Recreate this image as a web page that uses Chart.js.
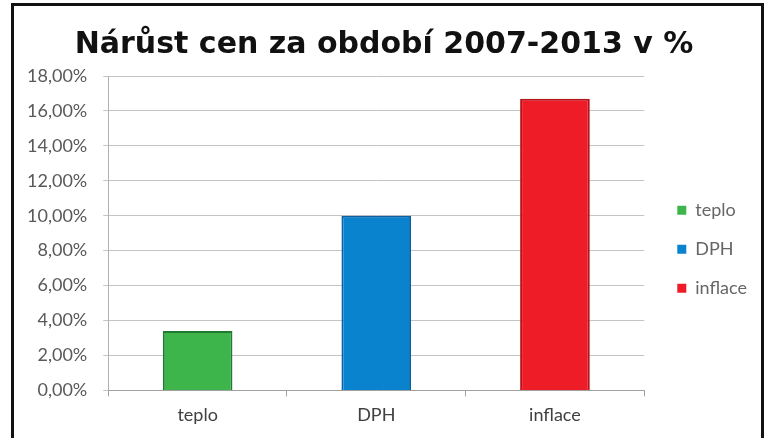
<!DOCTYPE html>
<html>
<head>
<meta charset="utf-8">
<script src="https://cdn.jsdelivr.net/npm/chart.js@4"></script>
<style>
  html, body { margin: 0; padding: 0; background: #fff; }
  #wrap { position: relative; width: 769px; height: 438px; overflow: hidden; }
  #frame {
    position: absolute; left: 11px; top: 3px; width: 747px; height: 450px;
    border: 3px solid #111; pointer-events: none;
  }
</style>
</head>
<body>
<div id="wrap">
  <canvas id="chart" width="769" height="438"></canvas>
  <div id="frame"></div>
</div>
<script>
// chart data
const categories = ['teplo', 'DPH', 'inflace'];
const values = [3.4, 10.0, 16.7];
const fillColors = ['#3db54b', '#0a83cf', '#ed1c27'];
const edgeColors = ['#1f7a32', '#0562a6', '#b8121b'];
const yTicks = [0, 2, 4, 6, 8, 10, 12, 14, 16, 18];

const labelFont = { family: 'Lato', size: 18 };

new Chart(document.getElementById('chart').getContext('2d'), {
    type: 'bar',
    data: {
        labels: categories,
        datasets: [{
            data: values,
            backgroundColor: fillColors,
            borderColor: edgeColors,
            borderWidth: 2,
            categoryPercentage: 1,
            barPercentage: 0.39
        }]
    },
    options: {
        responsive: false,
        animation: false,
        layout: { padding: { left: 11, right: 12, top: 0, bottom: 4 } },
        plugins: {
            title: {
                display: true,
                text: 'Nárůst cen za období 2007-2013 v %',
                color: '#111',
                font: { family: 'DejaVu Sans', size: 30, weight: 'bold' },
                padding: { top: 27, bottom: 13 }
            },
            legend: {
                position: 'right',
                onClick: null,
                title: { display: true, text: ' ', font: { size: 12 }, padding: { top: 25, bottom: 25 } },
                labels: {
                    boxWidth: 9,
                    boxHeight: 9,
                    padding: 21,
                    color: '#333',
                    font: labelFont,
                    generateLabels: function() {
                        return categories.map((c, i) => ({
                            text: c,
                            fillStyle: fillColors[i],
                            strokeStyle: fillColors[i],
                            lineWidth: 0,
                            index: i
                        }));
                    }
                }
            },
            tooltip: { enabled: false }
        },
        scales: {
            x: {
                grid: { offset: true, drawOnChartArea: false, tickLength: 6, color: '#a0a0a0' },
                border: { color: '#a0a0a0' },
                ticks: { color: '#404040', font: labelFont, padding: 8 }
            },
            y: {
                min: 0,
                max: 18,
                afterBuildTicks: function(axis) {
                    axis.ticks = yTicks.map(v => ({ value: v }));
                },
                grid: { color: '#c4c4c4', tickLength: 5 },
                border: { color: '#b0b0b0' },
                ticks: {
                    color: '#595959',
                    font: labelFont,
                    padding: 16,
                    callback: function(value) {
                        return value.toFixed(2).replace('.', ',') + '%';
                    }
                }
            },
            // empty spacer between plot and legend
            gap: {
                position: 'right',
                display: true,
                grid: { display: false },
                border: { display: false },
                ticks: { display: false },
                afterFit: function(scale) { scale.width = 12; }
            }
        }
    }
});
</script>
</body>
</html>
